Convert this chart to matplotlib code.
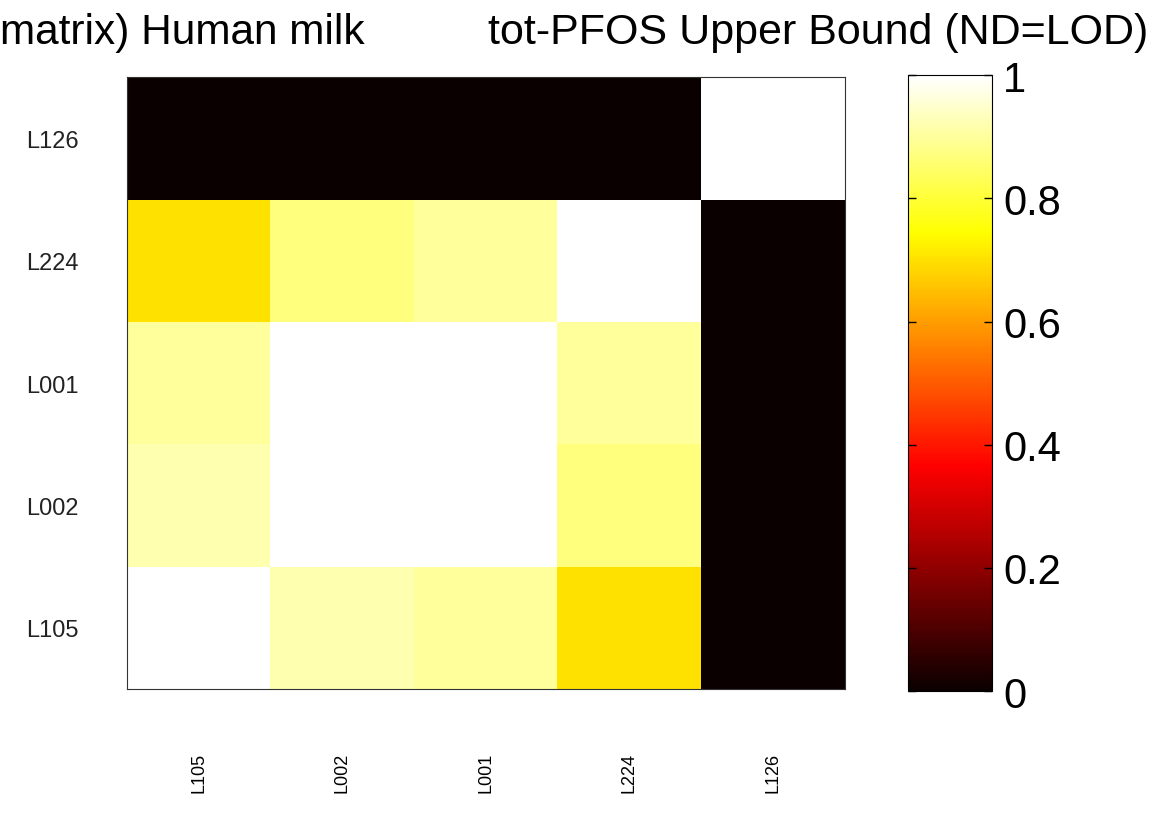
import matplotlib
matplotlib.use("Agg")
import matplotlib.pyplot as plt
import numpy as np

plt.rcParams['font.family'] = ['Liberation Sans', 'DejaVu Sans']

labels = ["L105", "L002", "L001", "L224", "L126"]
corr = [
    [1.00, 0.92, 0.90, 0.70, 0.00],
    [0.92, 1.00, 1.00, 0.87, 0.00],
    [0.90, 1.00, 1.00, 0.90, 0.00],
    [0.70, 0.87, 0.90, 1.00, 0.00],
    [0.00, 0.00, 0.00, 0.00, 1.00],
]
cbar_ticks = [0, 0.2, 0.4, 0.6, 0.8, 1]
cbar_labels = ["0", "0.2", "0.4", "0.6", "0.8", "1"]

fig = plt.figure(figsize=(11.54, 8.2), dpi=100)
ax = fig.add_axes([0.110, 0.1585, 0.622, 0.746])
cax = fig.add_axes([0.787, 0.156, 0.0728, 0.751])

im = ax.imshow(np.array(corr), cmap="hot", vmin=0, vmax=1,
               origin="lower", aspect="auto", interpolation="nearest")

ax.set_xticks(range(len(labels)))
ax.set_xticklabels(labels, rotation=90, fontsize=13, va="top")
ax.set_yticks(range(len(labels)))
ax.set_yticklabels(labels, fontsize=17, color="#222222")
ax.tick_params(axis="x", length=0, pad=45)
ax.tick_params(axis="y", length=0, pad=35)
for s in ax.spines.values():
    s.set_linewidth(0.8)
    s.set_color("#333333")

cb = fig.colorbar(im, cax=cax, ticks=cbar_ticks)
cb.ax.set_yticklabels(cbar_labels)
cb.ax.tick_params(labelsize=30, direction="in", length=6, width=1,
                  left=True, right=True, pad=8)
cb.outline.set_linewidth(0.8)

fig.text(0.0, 0.96, "matrix) Human milk", fontsize=30.5, ha="left", va="center")
fig.text(0.995, 0.96, "tot-PFOS Upper Bound (ND=LOD)", fontsize=31,
         ha="right", va="center")

fig.savefig("out.png", dpi=100)
